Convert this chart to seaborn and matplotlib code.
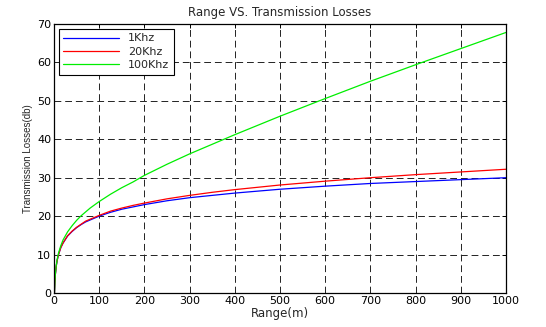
import pandas as pd
import matplotlib
matplotlib.use("Agg")
import matplotlib.pyplot as plt
import seaborn as sns

range_m = [1, 2, 3, 5, 7, 10, 15, 20, 30, 40, 50, 60, 70, 80, 100, 125, 150, 175,
           200, 250, 300, 350, 400, 450, 500, 600, 700, 800, 900, 1000]

tl_1khz = [0, 3.0, 4.8, 7.0, 8.5, 10.0, 11.8, 13.0, 14.8, 16.0, 17.0, 17.8, 18.5, 19.0,
           20.0, 21.0, 21.8, 22.4, 23.0, 24.0, 24.8, 25.4, 26.0, 26.5, 27.0, 27.8,
           28.5, 29.0, 29.5, 30.0]
tl_20khz = [0, 3.0, 4.8, 7.0, 8.5, 10.0, 11.8, 13.0, 14.9, 16.1, 17.1, 17.9, 18.7, 19.2,
            20.2, 21.3, 22.1, 22.8, 23.4, 24.5, 25.4, 26.2, 26.9, 27.5, 28.1, 29.1,
            30.0, 30.8, 31.5, 32.2]
tl_100khz = [0, 3.1, 4.9, 7.2, 8.7, 10.4, 12.3, 13.8, 15.9, 17.5, 18.9, 20.1, 21.1, 22.1,
             23.8, 25.7, 27.4, 28.9, 30.6, 33.5, 36.2, 38.7, 41.2, 43.6, 46.0, 50.6,
             55.1, 59.4, 63.6, 67.8]

series = ["1Khz", "20Khz", "100Khz"]
colors = ["#0000ff", "#ff0000", "#00ee00"]

df = pd.concat([
    pd.DataFrame({"Range": range_m, "TL": tl_1khz, "freq": "1Khz"}),
    pd.DataFrame({"Range": range_m, "TL": tl_20khz, "freq": "20Khz"}),
    pd.DataFrame({"Range": range_m, "TL": tl_100khz, "freq": "100Khz"}),
])

sns.set_style("white")
plt.rcParams["font.family"] = ["DejaVu Sans"]
plt.rcParams["font.size"] = 8

fig = plt.figure(figsize=(5.46, 3.27), dpi=100)
ax = fig.add_axes([0.0989, 0.104, 0.8278, 0.8226])

sns.lineplot(data=df, x="Range", y="TL", hue="freq", hue_order=series,
             palette=colors, linewidth=0.9, ax=ax)

ax.set_xlim(0, 1000)
ax.set_ylim(0, 70)
ax.set_xticks(range(0, 1001, 100))
ax.set_yticks(range(0, 71, 10))
ax.grid(True, color="#222222", linestyle=(0, (7, 4)), linewidth=0.7)
ax.set_axisbelow(True)
ax.tick_params(direction="in", top=True, right=True, length=3, width=0.7,
               labelsize=8, pad=2, colors="black")
for sp in ax.spines.values():
    sp.set_color("black")
    sp.set_linewidth(0.9)

ax.set_title("Range VS. Transmission Losses", fontsize=8.5, pad=6)
ax.set_xlabel("Range(m)", fontsize=8.5, labelpad=1)
ax.set_ylabel("Transmission Losses(db)", fontsize=7, labelpad=3,
              family=["Liberation Sans", "DejaVu Sans"])

leg = ax.legend(loc="upper left", fancybox=False, framealpha=1, edgecolor="black",
                fontsize=8, borderaxespad=0.45, handlelength=5, labelspacing=0.3,
                borderpad=0.4)
leg.get_frame().set_linewidth(0.8)

fig.savefig("out.png", dpi=100)
